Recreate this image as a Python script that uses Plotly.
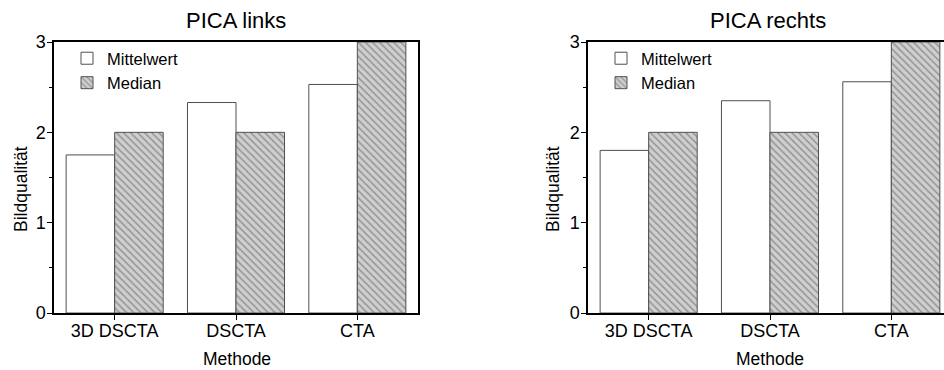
import plotly.graph_objects as go

categories = ["3D DSCTA", "DSCTA", "CTA"]
links_mittelwert = [1.75, 2.33, 2.53]
links_median = [2, 2, 3]
rechts_mittelwert = [1.80, 2.35, 2.56]
rechts_median = [2, 2, 3]
panel_titles = ["PICA links", "PICA rechts"]
series_names = ["Mittelwert", "Median"]
y_ticks = [0, 1, 2, 3]

W, H = 944, 370
FONT = "Arial, Liberation Sans, sans-serif"

def px(x):
    return x / W

def py(y):
    return 1 - y / H

fig = go.Figure()

panels = [
    dict(mw=links_mittelwert, md=links_median, xa="x", ya="y", legend="legend", xdom=[px(54), px(418)], xr=[-0.5, 2.5]),
    dict(mw=rechts_mittelwert, md=rechts_median, xa="x2", ya="y2", legend="legend2", xdom=[px(588), 1.0], xr=[-0.5, -0.5 + 356 / 121.33]),
]

for p in panels:
    fig.add_trace(go.Bar(
        x=categories, y=p["mw"], name=series_names[0], xaxis=p["xa"], yaxis=p["ya"],
        legend=p["legend"],
        marker=dict(color="white", line=dict(color="#505050", width=1)),
    ))
    fig.add_trace(go.Bar(
        x=categories, y=p["md"], name=series_names[1], xaxis=p["xa"], yaxis=p["ya"],
        legend=p["legend"],
        marker=dict(color="#cfcfcf", line=dict(color="#505050", width=1),
                    pattern=dict(shape="\\", fgcolor="#5a5a5a", bgcolor="#cfcfcf", size=5, solidity=0.3)),
    ))

ydom = [py(313), py(42)]

def xaxis_cfg(p):
    return dict(
        domain=p["xdom"], range=p["xr"], type="category", anchor=p["ya"], automargin=False,
        showline=True, linecolor="black", linewidth=1.5, mirror=True,
        ticks="outside", ticklen=5, tickcolor="black", tickwidth=1.2, ticklabelstandoff=-4,
        tickfont=dict(family=FONT, size=18, color="black"),
        showgrid=False, zeroline=False, fixedrange=True,
    )

def yaxis_cfg(anchor, mirror):
    return dict(
        domain=ydom, range=[0, 3], anchor=anchor, automargin=False,
        showline=True, linecolor="black", linewidth=1.5, mirror=mirror,
        tickvals=y_ticks, ticks="outside", ticklen=5, tickcolor="black", tickwidth=1.2, ticklabelstandoff=-2,
        minor=dict(dtick=0.5, ticks="outside", ticklen=3, tickcolor="black", tickwidth=1.2),
        tickfont=dict(family=FONT, size=18, color="black"),
        showgrid=False, zeroline=False, fixedrange=True,
    )

def minor_x(p, overlay):
    return dict(domain=p["xdom"], range=p["xr"], anchor=p["ya"], overlaying=overlay, automargin=False,
                tickvals=[0.5, 1.5], ticks="outside", ticklen=3, tickcolor="black", tickwidth=1.2,
                showticklabels=False, showgrid=False, zeroline=False, showline=False, fixedrange=True)

legend_common = dict(xanchor="left", yanchor="top", bgcolor="rgba(0,0,0,0)",
                     font=dict(family=FONT, size=16.5, color="black"), tracegroupgap=0, itemwidth=30)

fig.update_layout(
    width=W, height=H,
    margin=dict(l=0, r=0, t=0, b=0, pad=0, autoexpand=False),
    paper_bgcolor="white", plot_bgcolor="white",
    barmode="group", bargap=0.2, bargroupgap=0,
    font=dict(family=FONT, size=16, color="black"),
    xaxis=xaxis_cfg(panels[0]),
    yaxis=yaxis_cfg("x", True),
    xaxis2=xaxis_cfg(panels[1]),
    yaxis2=yaxis_cfg("x2", False),
    xaxis3=minor_x(panels[0], "x"),
    xaxis4=minor_x(panels[1], "x2"),
    legend=dict(x=px(67), y=py(41), **legend_common),
    legend2=dict(x=px(601), y=py(41), **legend_common),
    showlegend=True,
)

annotations = []
for title, cx in zip(panel_titles, [236, 768]):
    annotations.append(dict(text=title, x=px(cx), y=py(20), xref="paper", yref="paper",
                            showarrow=False, font=dict(family=FONT, size=22, color="black"),
                            xanchor="center", yanchor="middle"))
for cx in [236.5, 770]:
    annotations.append(dict(text="Methode", x=px(cx), y=py(359), xref="paper", yref="paper",
                            showarrow=False, font=dict(family=FONT, size=17.5, color="black"),
                            xanchor="center", yanchor="middle"))
for cx in [21, 553]:
    annotations.append(dict(text="Bildqualität", x=px(cx), y=py(189), xref="paper", yref="paper",
                            showarrow=False, textangle=-90, font=dict(family=FONT, size=17.5, color="black"),
                            xanchor="center", yanchor="middle"))
fig.update_layout(annotations=annotations)

fig.write_html("out.html", config={"displayModeBar": False},
               post_script="document.body.style.margin='0';document.body.style.padding='0';document.body.style.overflow='hidden';")
